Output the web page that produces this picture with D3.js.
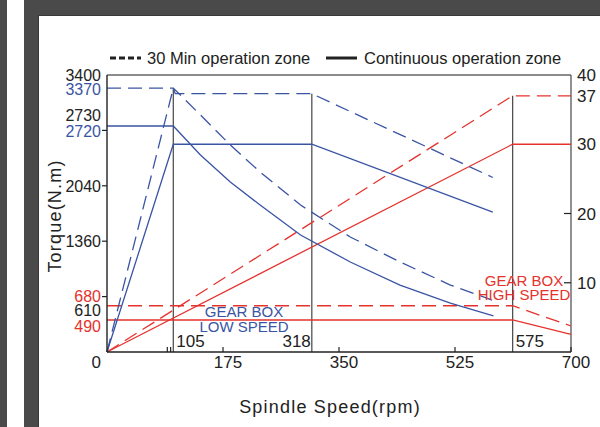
<!DOCTYPE html>
<html>
<head>
<meta charset="utf-8">
<script src="https://cdn.jsdelivr.net/npm/d3@7"></script>
<style>
  body { margin: 0; background: #4b4a4b; }
  svg { display: block; font-family: "Liberation Sans", Arial, sans-serif; }
</style>
</head>
<body>
<div id="chart"></div>
<script>
// [rpm, value] points
const lowTorque30 = [[0, 3240], [100, 3240], [141, 2909], [186, 2541], [231, 2209], [292, 1804], [367, 1412], [442, 1105], [518, 822], [581, 638]];
const lowTorqueCont = [[0, 2774], [100, 2774], [141, 2418], [186, 2087], [231, 1804], [292, 1436], [367, 1105], [442, 822], [518, 601], [583, 442]];
const highTorque30 = [[0, 568], [612, 568], [700, 319]];
const highTorqueCont = [[0, 393], [612, 393], [700, 217]];
// power lines use the right axis (kW)
const lowPower30 = [[0, 0], [100, 38.1], [103, 37.3], [309, 37.3], [582, 25.2]];
const lowPowerCont = [[0, 0], [100, 30], [309, 30], [582, 20.2]];
const highPower30 = [[0, 0], [612, 37], [700, 37]];
const highPowerCont = [[0, 0], [612, 30], [700, 30]];

// vertical marker lines: [rpm, top in kW]
const markers = [[100, 38.1], [309, 37.3], [612, 37]];
const markerLabels = [['105', 100, 'start'], ['318', 309, 'end'], ['575', 612, 'start']];

const xTicks = [175, 350, 525, 700];
const xMinorTicks = [91, 96];
const leftTicks = [680, 1360, 2040, 2720];
// left labels: [text, value where it sits, colour]
const leftLabels = [
  ['3400', 3400, '#222'], ['3370', 3220, '#3a54a4'], ['2730', 2910, '#222'], ['2720', 2710, '#3a54a4'],
  ['2040', 2030, '#222'], ['1360', 1360, '#222'], ['680', 690, '#e5322d'], ['610', 515, '#222'],
  ['490', 315, '#e5322d']
];
const rightTicks = [10, 20];
const rightLabels = [40, 37, 30, 20, 10];

const blue = '#3a54a4', red = '#e5322d';

const W = 600, H = 427;
const svg = d3.select('#chart').append('svg').attr('width', W).attr('height', H);

// frame
svg.append('rect').attr('width', W).attr('height', H).attr('fill', '#4b4a4b');
svg.append('rect').attr('x', 7).attr('y', 0).attr('width', 17).attr('height', H).attr('fill', '#fff');
svg.append('rect').attr('x', 38).attr('y', 15).attr('width', W - 38).attr('height', H - 15).attr('fill', '#3a393a');
svg.append('rect').attr('x', 39).attr('y', 16).attr('width', W - 39).attr('height', H - 16).attr('fill', '#fff');

const x = d3.scaleLinear().domain([0, 700]).range([107, 571]);
const yL = d3.scaleLinear().domain([0, 3400]).range([352, 75]);
const yR = d3.scaleLinear().domain([0, 40]).range([352, 75]);

// plot box
svg.append('line').attr('x1', x(0)).attr('x2', x(700)).attr('y1', yL(3400)).attr('y2', yL(3400))
  .attr('stroke', '#666').attr('stroke-width', 1.3);
svg.append('line').attr('x1', x(700)).attr('x2', x(700)).attr('y1', yL(3400)).attr('y2', yL(0))
  .attr('stroke', '#555').attr('stroke-width', 1.3);

// marker lines
svg.selectAll('.marker').data(markers).enter().append('line')
  .attr('x1', d => x(d[0])).attr('x2', d => x(d[0]))
  .attr('y1', d => yR(d[1])).attr('y2', yL(0))
  .attr('stroke', '#444').attr('stroke-width', 1.2);

const lineL = d3.line().x(d => x(d[0])).y(d => yL(d[1]));
const lineR = d3.line().x(d => x(d[0])).y(d => yR(d[1]));

const series = [
  [highTorque30, lineL, red, true], [highTorqueCont, lineL, red, false],
  [highPower30, lineR, red, true], [highPowerCont, lineR, red, false],
  [lowTorque30, lineL, blue, true], [lowTorqueCont, lineL, blue, false],
  [lowPower30, lineR, blue, true], [lowPowerCont, lineR, blue, false]
];
series.forEach(([pts, gen, color, dashed]) => {
  svg.append('path').attr('d', gen(pts)).attr('fill', 'none')
    .attr('stroke', color).attr('stroke-width', 1.3)
    .attr('stroke-dasharray', dashed ? '14,7' : null);
});

// axes
svg.append('line').attr('x1', x(0)).attr('x2', x(0)).attr('y1', yL(3400)).attr('y2', yL(0))
  .attr('stroke', '#222').attr('stroke-width', 1.4);
svg.append('line').attr('x1', x(0)).attr('x2', x(700)).attr('y1', yL(0)).attr('y2', yL(0))
  .attr('stroke', '#222').attr('stroke-width', 1.4);

svg.selectAll('.xt').data(xTicks.concat(xMinorTicks)).enter().append('line')
  .attr('x1', d => x(d)).attr('x2', d => x(d)).attr('y1', yL(0)).attr('y2', yL(0) - 5)
  .attr('stroke', '#222').attr('stroke-width', 1.2);
svg.selectAll('.xl').data(xTicks).enter().append('text')
  .attr('x', d => x(d) + 5).attr('y', 368).attr('text-anchor', 'middle')
  .attr('font-size', 17).attr('fill', '#222').text(d => d);
svg.append('text').attr('x', 101).attr('y', 368).attr('text-anchor', 'end')
  .attr('font-size', 17).attr('fill', '#222').text('0');

svg.selectAll('.yt').data(leftTicks).enter().append('line')
  .attr('x1', x(0) - 5).attr('x2', x(0)).attr('y1', d => yL(d)).attr('y2', d => yL(d))
  .attr('stroke', '#222').attr('stroke-width', 1.2);
svg.selectAll('.yl').data(leftLabels).enter().append('text')
  .attr('x', 101).attr('y', d => yL(d[1])).attr('dy', '0.36em').attr('text-anchor', 'end')
  .attr('font-size', 16).attr('fill', d => d[2]).text(d => d[0]);

svg.selectAll('.rt').data(rightTicks).enter().append('line')
  .attr('x1', x(700) - 7).attr('x2', x(700)).attr('y1', d => yR(d)).attr('y2', d => yR(d))
  .attr('stroke', '#222').attr('stroke-width', 1.2);
svg.selectAll('.rl').data(rightLabels).enter().append('text')
  .attr('x', 577).attr('y', d => yR(d)).attr('dy', '0.36em')
  .attr('font-size', 17).attr('fill', '#222').text(d => d);

// marker labels
svg.selectAll('.ml').data(markerLabels).enter().append('text')
  .attr('x', d => x(d[1]) + (d[2] === 'end' ? -1 : 3)).attr('y', 347)
  .attr('text-anchor', d => d[2]).attr('font-size', 17).attr('fill', '#222').text(d => d[0]);

// gear box notes
svg.append('text').attr('x', 244).attr('y', 317).attr('text-anchor', 'middle')
  .attr('font-size', 15).attr('fill', blue).text('GEAR BOX');
svg.append('text').attr('x', 244).attr('y', 332).attr('text-anchor', 'middle')
  .attr('font-size', 15).attr('fill', blue).text('LOW SPEED');
svg.append('text').attr('x', 524).attr('y', 286).attr('text-anchor', 'middle')
  .attr('font-size', 15).attr('fill', red).text('GEAR BOX');
svg.append('text').attr('x', 524).attr('y', 300).attr('text-anchor', 'middle')
  .attr('font-size', 15).attr('fill', red).text('HIGH SPEED');

// axis titles
svg.append('text').attr('transform', 'translate(61,216) rotate(-90)').attr('text-anchor', 'middle')
  .attr('font-size', 18).attr('letter-spacing', 1.2).attr('fill', '#222').text('Torque(N.m)');
svg.append('text').attr('x', 330).attr('y', 413).attr('text-anchor', 'middle')
  .attr('font-size', 18).attr('letter-spacing', 1.2).attr('fill', '#222').text('Spindle Speed(rpm)');

// legend
svg.append('line').attr('x1', 110).attr('x2', 141).attr('y1', 58).attr('y2', 58)
  .attr('stroke', '#222').attr('stroke-width', 3).attr('stroke-dasharray', '6,3');
svg.append('text').attr('x', 147).attr('y', 64).attr('font-size', 16.5).attr('fill', '#222')
  .text('30 Min operation zone');
svg.append('line').attr('x1', 326).attr('x2', 357).attr('y1', 58).attr('y2', 58)
  .attr('stroke', '#222').attr('stroke-width', 3);
svg.append('text').attr('x', 364).attr('y', 64).attr('font-size', 16.5).attr('fill', '#222')
  .text('Continuous operation zone');
</script>
</body>
</html>
